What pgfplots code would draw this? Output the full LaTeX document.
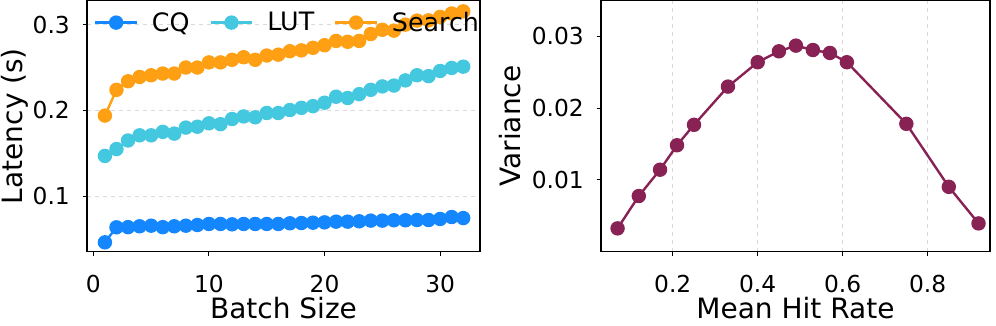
\documentclass[border=0pt]{standalone}
\usepackage{pgfplots}
\pgfplotsset{compat=1.18}
\usepackage{fontspec}
\setmainfont{DejaVu Sans}
\definecolor{cqblue}{RGB}{20,135,255}
\definecolor{lutcyan}{RGB}{68,200,224}
\definecolor{searchorange}{RGB}{255,160,20}
\definecolor{wine}{RGB}{136,34,85}

\pgfplotsset{
  common/.style={
    scale only axis,
    width=294.75pt, height=188.25pt,
    axis line style={black, line width=0.8pt},
    tick align=outside, tick pos=left,
    major tick length=3.2pt,
    tick style={black, line width=0.8pt},
    /pgf/number format/assume math mode=true,
    tick label style={font=\fontsize{17.5}{21}\selectfont},
    xticklabel style={inner sep=0pt, yshift=-14pt},
    yticklabel style={inner sep=0pt, xshift=-9.5pt},
    label style={font=\fontsize{21}{25}\selectfont},
    grid style={dashed, gray!30, line width=0.8pt},
    every axis plot/.append style={line width=1.8pt, mark=*, mark size=4.5pt},
  },
}

\begin{document}
\begin{tikzpicture}
% left: latency vs batch size
\begin{axis}[common,
  xmin=-0.55, xmax=33.45, ymin=0.0355, ymax=0.328,
  xtick={0,10,20,30}, ytick={0.1,0.2,0.3},
  ymajorgrids,
  yticklabel style={/pgf/number format/.cd, fixed, precision=1},
  xlabel={Batch Size}, ylabel={Latency (s)},
  xlabel style={at={(axis description cs:0.5,0)}, anchor=base, inner sep=0pt, yshift=-50.25pt},
  ylabel style={at={(axis description cs:-0.1476,0.5)}, anchor=south, inner sep=0pt},
  legend columns=3,
  legend style={draw=none, fill=none, inner sep=0pt,
    at={(rel axis cs:0,1)}, anchor=west, xshift=5.25pt, yshift=-16.5pt,
    font=\fontsize{19}{23}\selectfont,
    nodes={inner sep=0pt},
    /tikz/every odd column/.append style={column sep=10.5pt},
    /tikz/every even column/.append style={column sep=15pt}},
  legend image code/.code={\draw[mark repeat=2, mark phase=2, #1]
    plot coordinates {(0pt,0pt) (15.5pt,0pt) (31pt,0pt)};},
]
\addplot[color=cqblue, mark options={fill=cqblue, draw=cqblue}] coordinates {
  (1,0.0463) (2,0.0638) (3,0.0640) (4,0.0650) (5,0.0657) (6,0.0640) (7,0.0650) (8,0.0657)
  (9,0.0665) (10,0.0677) (11,0.0677) (12,0.0673) (13,0.0677) (14,0.0677) (15,0.0677) (16,0.0677)
  (17,0.0685) (18,0.0688) (19,0.0692) (20,0.0696) (21,0.0704) (22,0.0704) (23,0.0708) (24,0.0716)
  (25,0.0716) (26,0.0720) (27,0.0720) (28,0.0723) (29,0.0723) (30,0.0735) (31,0.0758) (32,0.0746)};
\addlegendentry{CQ}
\addplot[color=lutcyan, mark options={fill=lutcyan, draw=lutcyan}] coordinates {
  (1,0.147) (2,0.155) (3,0.165) (4,0.171) (5,0.171) (6,0.175) (7,0.173) (8,0.180)
  (9,0.181) (10,0.185) (11,0.184) (12,0.190) (13,0.193) (14,0.192) (15,0.197) (16,0.197)
  (17,0.2005) (18,0.203) (19,0.205) (20,0.209) (21,0.216) (22,0.2145) (23,0.219) (24,0.224)
  (25,0.228) (26,0.229) (27,0.235) (28,0.241) (29,0.240) (30,0.246) (31,0.2495) (32,0.251)};
\addlegendentry{LUT}
\addplot[color=searchorange, mark options={fill=searchorange, draw=searchorange}] coordinates {
  (1,0.194) (2,0.224) (3,0.234) (4,0.239) (5,0.241) (6,0.243) (7,0.243) (8,0.250)
  (9,0.250) (10,0.256) (11,0.256) (12,0.259) (13,0.262) (14,0.259) (15,0.264) (16,0.265)
  (17,0.269) (18,0.270) (19,0.273) (20,0.276) (21,0.281) (22,0.280) (23,0.281) (24,0.289)
  (25,0.294) (26,0.293) (27,0.300) (28,0.3047) (29,0.305) (30,0.309) (31,0.313) (32,0.3155)};
\addlegendentry{Search}
\end{axis}

% right: variance vs mean hit rate
\begin{axis}[common, at={(385.5pt,0pt)},
  width=291.75pt,
  xmin=0.031, xmax=0.947, ymin=0, ymax=0.035,
  xtick={0.2,0.4,0.6,0.8}, ytick={0.01,0.02,0.03},
  xmajorgrids,
  xticklabel style={/pgf/number format/.cd, fixed, precision=1},
  yticklabel style={/pgf/number format/.cd, fixed, fixed zerofill, precision=2},
  scaled y ticks=false,
  xlabel={Mean Hit Rate}, ylabel={Variance},
  xlabel style={at={(axis description cs:0.5,0)}, anchor=base, inner sep=0pt, yshift=-50.25pt},
  ylabel style={at={(axis description cs:-0.205,0.5)}, anchor=south, inner sep=0pt},
]
\addplot[color=wine, mark options={fill=wine, draw=wine}] coordinates {
  (0.07,0.00324) (0.12,0.00775) (0.17,0.01142) (0.21,0.01483) (0.25,0.01768)
  (0.33,0.02301) (0.40,0.02641) (0.45,0.02793) (0.49,0.02872) (0.53,0.02811)
  (0.57,0.02770) (0.61,0.02641) (0.75,0.01782) (0.85,0.00903) (0.92,0.00393)};
\end{axis}
\pgfresetboundingbox
\path[use as bounding box] (-65.25pt,-55.5pt) rectangle (681.75pt,188.7pt);
\end{tikzpicture}
\end{document}
